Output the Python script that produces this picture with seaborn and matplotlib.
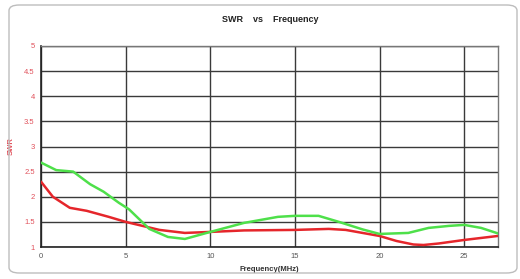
import numpy as np
import pandas as pd
import matplotlib
matplotlib.use("Agg")
import matplotlib.pyplot as plt
import seaborn as sns
from matplotlib.patches import FancyBboxPatch

# values
freq_red = [0, 0.7, 1.7, 2.7, 4.0, 5.0, 6.0, 7.0, 8.5, 10, 12, 15, 17, 18, 19, 20, 21, 22, 22.6, 23.5, 25, 26, 27]
swr_red = [2.3, 2.0, 1.78, 1.72, 1.6, 1.5, 1.42, 1.34, 1.28, 1.3, 1.33, 1.34, 1.36, 1.34, 1.28, 1.22, 1.12, 1.05, 1.04, 1.07, 1.14, 1.18, 1.22]

freq_green = [0, 0.9, 1.9, 2.9, 3.7, 4.6, 5.2, 6.4, 7.5, 8.5, 10, 12, 14, 15, 16.4, 17.6, 19, 20, 21.7, 22.9, 24.1, 25, 26, 27]
swr_green = [2.68, 2.53, 2.5, 2.25, 2.1, 1.88, 1.75, 1.36, 1.2, 1.16, 1.3, 1.48, 1.6, 1.62, 1.62, 1.5, 1.35, 1.26, 1.28, 1.38, 1.42, 1.44, 1.38, 1.27]

x_ticks = [0, 5, 10, 15, 20, 25]
y_ticks = [1, 1.5, 2, 2.5, 3, 3.5, 4, 4.5, 5]

df = pd.concat([
    pd.DataFrame({"freq": freq_red, "swr": swr_red, "series": "red"}),
    pd.DataFrame({"freq": freq_green, "swr": swr_green, "series": "green"}),
])

sns.set_style("white")
plt.rcParams['font.family'] = ['Liberation Sans', 'DejaVu Sans']

fig = plt.figure(figsize=(5.2, 2.79), dpi=100)
ax = fig.add_axes([41 / 520, 1 - 247 / 279, (498 - 41) / 520, (247 - 46) / 279])

# rounded outer frame
frame = FancyBboxPatch((9 / 520, 6 / 279), 508 / 520, 268 / 279,
                       boxstyle="round,pad=0,rounding_size=0.02",
                       transform=fig.transFigure, fill=False,
                       edgecolor="#bdbdbd", linewidth=1.0)
fig.patches.append(frame)

ax.grid(True, color="#3a3a3a", linewidth=1.0)
ax.set_axisbelow(True)

sns.lineplot(data=df, x="freq", y="swr", hue="series", sort=False,
             palette={"red": "#e5262b", "green": "#4ee04a"},
             linewidth=1.8, legend=False, ax=ax, zorder=3)

ax.set_xlim(0, 27)
ax.set_ylim(1, 5)
ax.set_xticks(x_ticks)
ax.set_yticks(y_ticks)
ax.set_yticklabels([f"{v:g}" for v in y_ticks], color="#e0505a", fontsize=5.5)
ax.set_xticklabels([str(v) for v in x_ticks], color="#555555", fontsize=5.5)
ax.tick_params(length=3, width=1, color="#3a3a3a", pad=1.5)

for side in ["left", "bottom"]:
    ax.spines[side].set_color("#222222")
    ax.spines[side].set_linewidth(1.2)
for side in ["top", "right"]:
    ax.spines[side].set_color("#777777")
    ax.spines[side].set_linewidth(1.0)

ax.set_xlabel("Frequency(MHz)", fontsize=5.5, fontweight="bold", color="#333333", labelpad=4)
ax.set_ylabel("SWR", fontsize=5.5, fontweight="bold", color="#e0505a")
ax.yaxis.set_label_coords(-0.057, 0.5)
fig.text(270 / 520, 1 - 20 / 279, "SWR    vs    Frequency", ha="center", va="center",
         fontsize=6.5, fontweight="bold", color="#222222")

fig.savefig("out.png", dpi=100)
